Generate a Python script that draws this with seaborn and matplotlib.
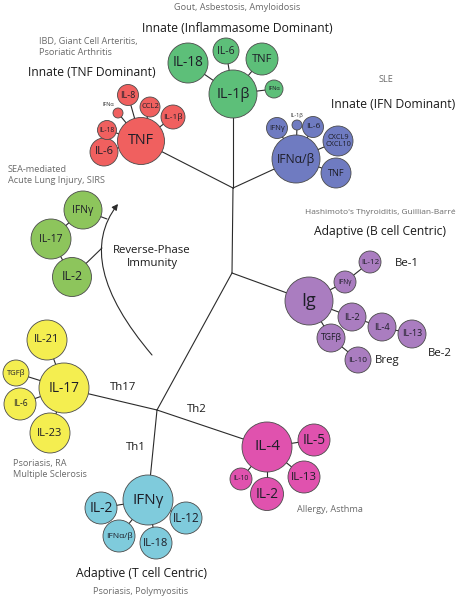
import numpy as np
import pandas as pd
import matplotlib
matplotlib.use("Agg")
import matplotlib.pyplot as plt
from matplotlib.path import Path
from matplotlib.patches import FancyArrowPatch
import seaborn as sns

# =========================
# NODES (cytokine bubbles)
# =========================

node_ids = [
    "inf_IL1b", "inf_IL18", "inf_IL6", "inf_TNF", "inf_IFNa",
    "tnf_TNF", "tnf_IL6", "tnf_IL18", "tnf_IFNa", "tnf_IL8", "tnf_CCL2", "tnf_IL1b",
    "ifn_IFNab", "ifn_TNF", "ifn_CXCL", "ifn_IL6", "ifn_IL1b", "ifn_IFNg",
    "sea_IFNg", "sea_IL17", "sea_IL2",
    "th17_IL17", "th17_IL21", "th17_TGFb", "th17_IL6", "th17_IL23",
    "th1_IFNg", "th1_IL2", "th1_IFNab", "th1_IL18", "th1_IL12",
    "th2_IL4", "th2_IL5", "th2_IL13", "th2_IL2", "th2_IL10",
    "b_Ig", "b_IFNg", "b_IL12", "b_IL2", "b_IL4", "b_IL13", "b_TGFb", "b_IL10",
]
node_labels = [
    "IL-1β", "IL-18", "IL-6", "TNF", "IFNα",
    "TNF", "IL-6", "IL-18", "", "IL-8", "CCL2", "IL-1β",
    "IFNα/β", "TNF", "CXCL9\nCXCL10", "IL-6", "", "IFNγ",
    "IFNγ", "IL-17", "IL-2",
    "IL-17", "IL-21", "TGFβ", "IL-6", "IL-23",
    "IFNγ", "IL-2", "IFNα/β", "IL-18", "IL-12",
    "IL-4", "IL-5", "IL-13", "IL-2", "IL-10",
    "Ig", "IFNγ", "IL-12", "IL-2", "IL-4", "IL-13", "TGFβ", "IL-10",
]
node_group = (["inflam"] * 5 + ["tnf"] * 7 + ["ifn"] * 6 + ["sea"] * 3
              + ["th17"] * 5 + ["th1"] * 5 + ["th2"] * 5 + ["bcell"] * 8)

# layout in picture pixels (x to the right, y downwards) and bubble radius
node_x = [233, 188, 226, 262, 274,
          141, 104, 107, 118, 128, 150, 173,
          296, 336, 338, 313, 297, 277,
          83, 51, 72,
          64, 47, 16, 20, 50,
          148, 101, 119, 156, 186,
          267, 314, 304, 267, 241,
          309, 345, 370, 352, 382, 412, 331, 358]
node_y = [94, 63, 51, 59, 89,
          141, 152, 130, 113, 95, 107, 117,
          159, 173, 141, 127, 125, 128,
          210, 239, 277,
          388, 340, 373, 404, 433,
          500, 508, 536, 543, 518,
          447, 440, 477, 494, 479,
          301, 282, 262, 317, 327, 334, 338, 360]
node_r = [24, 20, 13, 16, 9,
          23.5, 14, 9.5, 5, 10.5, 10, 12,
          24, 15, 15, 10.5, 5, 10.5,
          19, 20, 19.5,
          25, 20, 13, 16, 20,
          25, 16, 16, 16, 16,
          25, 16, 16, 16.5, 11,
          24, 11, 11, 14, 14, 14, 14, 13]
label_size = [10.4, 9.8, 7.5, 8, 4,
              10.4, 8, 4.9, 0, 6.5, 5.5, 6,
              8.7, 6.6, 5.3, 6, 0, 5.5,
              7.5, 7.5, 8.8,
              9.8, 8, 5.5, 6.2, 8,
              11, 10, 6, 8, 8.5,
              11, 9.8, 8.2, 9.8, 4.9,
              13, 4.7, 5.8, 6.7, 6.7, 6.4, 6.3, 6]

# branch points of the tree
junction_ids = ["J_top", "J_mid", "J_th", "arrow_a", "arrow_b"]
junction_x = [233, 232, 157, 107, 102]
junction_y = [188, 273, 410, 219, 248]

edges = [
    ("inf_IL1b", "inf_IL18"), ("inf_IL1b", "inf_IL6"), ("inf_IL1b", "inf_TNF"), ("inf_IL1b", "inf_IFNa"),
    ("tnf_TNF", "tnf_IL6"), ("tnf_TNF", "tnf_IL18"), ("tnf_TNF", "tnf_IFNa"), ("tnf_TNF", "tnf_IL8"),
    ("tnf_TNF", "tnf_CCL2"), ("tnf_TNF", "tnf_IL1b"),
    ("ifn_IFNab", "ifn_TNF"), ("ifn_IFNab", "ifn_CXCL"), ("ifn_IFNab", "ifn_IL6"),
    ("ifn_IFNab", "ifn_IL1b"), ("ifn_IFNab", "ifn_IFNg"),
    ("sea_IFNg", "sea_IL17"), ("sea_IL17", "sea_IL2"), ("sea_IFNg", "arrow_a"), ("sea_IL2", "arrow_b"),
    ("th17_IL17", "th17_IL21"), ("th17_IL17", "th17_TGFb"), ("th17_IL17", "th17_IL6"), ("th17_IL17", "th17_IL23"),
    ("th1_IFNg", "th1_IL2"), ("th1_IFNg", "th1_IFNab"), ("th1_IFNg", "th1_IL18"), ("th1_IFNg", "th1_IL12"),
    ("th2_IL4", "th2_IL5"), ("th2_IL4", "th2_IL13"), ("th2_IL4", "th2_IL2"), ("th2_IL4", "th2_IL10"),
    ("b_Ig", "b_IFNg"), ("b_IFNg", "b_IL12"), ("b_Ig", "b_IL2"), ("b_IL2", "b_IL4"), ("b_IL4", "b_IL13"),
    ("b_Ig", "b_TGFb"), ("b_TGFb", "b_IL10"),
    ("inf_IL1b", "J_top"), ("tnf_TNF", "J_top"), ("ifn_IFNab", "J_top"), ("J_top", "J_mid"),
    ("J_mid", "b_Ig"), ("J_mid", "J_th"), ("J_th", "th17_IL17"), ("J_th", "th2_IL4"), ("J_th", "th1_IFNg"),
]

group_colors = {
    "inflam": "#5dbf79", "tnf": "#f0605f", "ifn": "#6f7bc1", "sea": "#8dc55c",
    "th17": "#f4ee50", "th1": "#7fcbdc", "th2": "#e052ae", "bcell": "#aa7dc0",
}

# =========================
# TEXT
# =========================

titles = ["Innate (Inflammasome Dominant)", "Innate (TNF Dominant)", "Innate (IFN Dominant)",
          "Adaptive (B cell Centric)", "Adaptive (T cell Centric)"]
title_xy = [(237, 28), (92, 72), (393, 105), (380, 232), (141, 573)]

diseases = ["Gout, Asbestosis, Amyloidosis", "IBD, Giant Cell Arteritis,\nPsoriatic Arthritis", "SLE",
            "SEA-mediated\nAcute Lung Injury, SIRS", "Hashimoto's Thyroiditis, Guillian-Barré",
            "Psoriasis, RA\nMultiple Sclerosis", "Allergy, Asthma", "Psoriasis, Polymyositis"]
disease_xy = [(237, 8), (39, 47), (386, 80), (8, 175), (380, 213), (13, 469), (297, 509), (141, 591)]
disease_ha = ["center", "left", "center", "left", "center", "left", "left", "center"]

branch_labels = ["Th17", "Th2", "Th1", "Be-1", "Be-2", "Breg", "Reverse-Phase\nImmunity"]
branch_xy = [(123, 388), (197, 409), (136, 448), (407, 263), (440, 353), (387, 361), (152, 257)]

small_labels = ["IFNα", "IL-1β"]
small_xy = [(108, 104), (297, 115)]

# =========================
# FIGURE
# =========================

sns.set_theme(style="white")
plt.rcParams["font.family"] = ["Open Sans", "DejaVu Sans"]

W, H = 473, 600
fig = plt.figure(figsize=(W / 100, H / 100), dpi=100)
ax = fig.add_axes([0, 0, 1, 1])

df = pd.DataFrame({"id": node_ids, "label": node_labels, "group": node_group,
                   "x": node_x, "y": node_y, "r": node_r, "fs": label_size})

pos = {i: (x, y) for i, x, y in zip(df["id"], df["x"], df["y"])}
pos.update({i: (x, y) for i, x, y in zip(junction_ids, junction_x, junction_y)})

# tree lines
for a, b in edges:
    ax.plot([pos[a][0], pos[b][0]], [pos[a][1], pos[b][1]], color="#2b2b2b", lw=0.8, zorder=1)

# bubbles: 1 data unit = 1 px = 0.72 pt
df["s"] = (2 * df["r"] * 0.72) ** 2
sns.scatterplot(data=df, x="x", y="y", hue="group", palette=group_colors, s=df["s"].values,
                edgecolor="#4a4a4a", linewidth=0.6, legend=False, ax=ax, zorder=2)
ax.set_xlim(0, W)
ax.set_ylim(H, 0)
ax.axis("off")

for _, row in df.iterrows():
    if not row["label"]:
        continue
    ax.text(row["x"], row["y"], row["label"], ha="center", va="center", fontsize=row["fs"],
            color="#1e1e28", linespacing=0.95, zorder=3)

for t, (x, y) in zip(small_labels, small_xy):
    ax.text(x, y, t, ha="center", va="center", fontsize=4, color="#333333", zorder=3)

# reverse-phase arrow
curve = Path([(152, 355), (73, 262), (118, 204)], [Path.MOVETO, Path.CURVE3, Path.CURVE3])
ax.add_patch(FancyArrowPatch(path=curve, arrowstyle="-|>,head_length=3.5,head_width=1.8",
                             color="#2b2b2b", lw=0.8, zorder=1))

for t, (x, y) in zip(titles, title_xy):
    ax.text(x, y, t, ha="center", va="center", fontsize=8.7, color="#1a1a1a")

for t, (x, y), ha in zip(diseases, disease_xy, disease_ha):
    fs = 6.0 if t.startswith("Hashimoto") else 6.6
    ax.text(x, y, t, ha=ha, va="center", fontsize=fs, color="#6a6a6a", linespacing=1.3)

for t, (x, y) in zip(branch_labels, branch_xy):
    ax.text(x, y, t, ha="center", va="center", fontsize=8.2, color="#1a1a1a", linespacing=1.2)

plt.savefig("out.png", dpi=100)
